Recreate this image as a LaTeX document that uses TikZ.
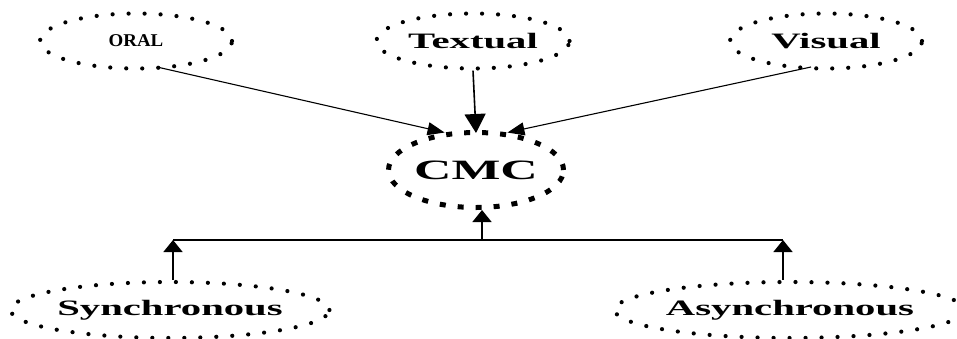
\documentclass[tikz,border=0pt]{standalone}
\usepackage{fontspec}
\setmainfont{Liberation Serif}
\usetikzlibrary{shapes.geometric,arrows.meta}
% wide bold lettering
\newcommand{\widetext}[2]{{\bfseries\fontsize{#1}{#1}\selectfont\scalebox{1.85}[1]{#2}}}
\begin{document}
\begin{tikzpicture}[x=1pt,y=-1pt,
  dotted oval/.style={ellipse,draw,line width=4.2pt,line cap=round,
    dash pattern=on 0pt off 16pt,inner sep=0pt},
  dashed oval/.style={ellipse,draw,line width=5pt,
    dash pattern=on 6pt off 12pt,inner sep=0pt},
  link/.style={line width=1.1pt,-{Triangle[length=17pt,width=13pt]}},
  downlink/.style={line width=1.6pt,-{Triangle[length=19pt,width=21pt]}},
  uplink/.style={line width=1.6pt,-{Triangle[length=12pt,width=19pt]}},
  bus/.style={line width=1.2pt}]
\useasboundingbox (0,0) rectangle (957,338);
\node[dotted oval,minimum width=192pt,minimum height=55pt] (oral) at (136,41)
  {\bfseries\fontsize{18}{18}\selectfont\scalebox{1.05}[1]{ORAL}};
\node[dotted oval,minimum width=193pt,minimum height=55pt] (textual) at (473,41) {\widetext{22}{Textual}};
\node[dotted oval,minimum width=192pt,minimum height=55pt] (visual) at (826,41) {\widetext{22}{Visual}};
\node[dashed oval,minimum width=175pt,minimum height=75pt] (cmc) at (476,170) {\widetext{28}{CMC}};
\node[dotted oval,minimum width=316pt,minimum height=56pt] (sync) at (170,310) {\widetext{22}{Synchronous}};
\node[dotted oval,minimum width=334pt,minimum height=56pt] (async) at (790,310) {\widetext{22}{Asynchronous}};
% junction points on the horizontal bus
\coordinate (busl) at (173,240);
\coordinate (busr) at (783,240);
\coordinate (busm) at (482,240);
\draw[link] (157,67) -- (cmc.130);
\draw[downlink] (textual.south) -- ([yshift=-3pt]cmc.north);
\draw[link] (811,67) -- (cmc.50);
\draw[bus] (busl) -- (busr);
\draw[uplink] (sync.north -| busl) -- (busl);
\draw[uplink] (async.north -| busr) -- (busr);
\draw[uplink] (busm) -- (cmc.south -| busm);
\end{tikzpicture}
\end{document}
